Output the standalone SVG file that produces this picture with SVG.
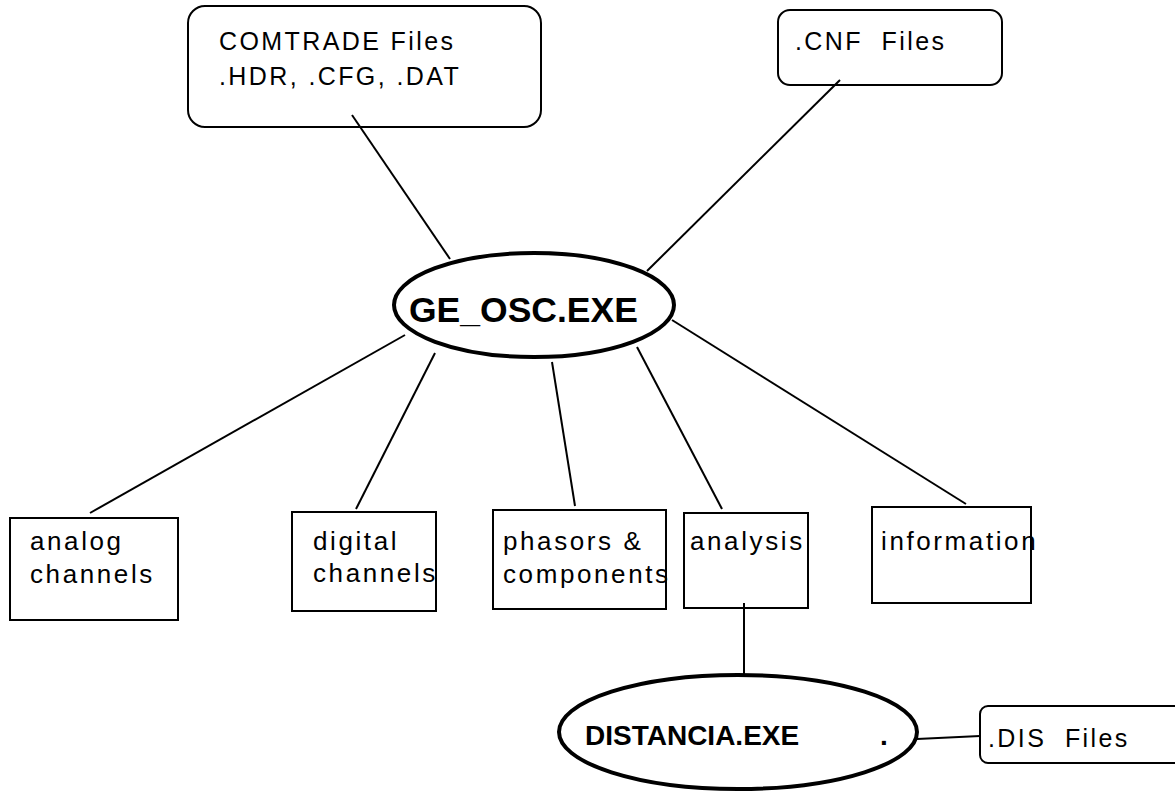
<svg xmlns="http://www.w3.org/2000/svg" width="1175" height="793" viewBox="0 0 1175 793">
<style>
.box{fill:#fff;stroke:#000;stroke-width:2}
.ell{fill:#fff;stroke:#000;stroke-width:4}
.t{font-family:"Liberation Sans",Arial,sans-serif;font-size:26px;letter-spacing:2.6px;fill:#000}
.tt{font-family:"Liberation Sans",Arial,sans-serif;font-size:25px;letter-spacing:2.4px;fill:#000}
.b{font-family:"Liberation Sans",Arial,sans-serif;font-weight:bold;fill:#000}
.c{stroke:#000;stroke-width:2;fill:none}
</style>
<rect width="1175" height="793" fill="#fff"/>
<g id="comtrade">
<rect class="box" x="188" y="6" width="353" height="121" rx="17"/>
<text class="tt" x="219" y="50">COMTRADE Files</text>
<text class="tt" x="219" y="85">.HDR, .CFG, .DAT</text>
</g>
<g id="cnf">
<rect class="box" x="778" y="10" width="224" height="75" rx="12"/>
<text class="tt" x="795" y="50" letter-spacing="2">.CNF&#160; Files</text>
</g>
<g id="ge_osc">
<ellipse class="ell" cx="534" cy="305" rx="140" ry="52"/>
<text class="b" x="409" y="322" font-size="35.5">GE_OSC.EXE</text>
</g>
<g id="analog">
<rect class="box" x="10" y="518" width="168" height="102"/>
<text class="t" x="30" y="550">analog</text>
<text class="t" x="30" y="583">channels</text>
</g>
<g id="digital">
<rect class="box" x="292" y="512" width="144" height="99"/>
<text class="t" x="313" y="550">digital</text>
<text class="t" x="313" y="582">channels</text>
</g>
<g id="phasors">
<rect class="box" x="493" y="510" width="173" height="99"/>
<text class="t" x="503" y="550">phasors &amp;</text>
<text class="t" x="503" y="583">components</text>
</g>
<g id="analysis">
<rect class="box" x="684" y="513" width="124" height="95"/>
<text class="t" x="690" y="550">analysis</text>
</g>
<g id="information">
<rect class="box" x="872" y="507" width="159" height="96"/>
<text class="t" x="881" y="550">information</text>
</g>
<g id="distancia">
<ellipse class="ell" cx="738" cy="732" rx="179" ry="57"/>
<text class="b" x="585" y="745" font-size="28">DISTANCIA.EXE</text>
<text class="b" x="880" y="745" font-size="28">.</text>
</g>
<g id="dis">
<rect class="box" x="980" y="706" width="205" height="57" rx="8"/>
<text class="tt" x="988" y="747">.DIS&#160; Files</text>
</g>
<g id="connectors">
<line class="c" x1="352" y1="115" x2="450" y2="259"/>
<line class="c" x1="840" y1="80" x2="647" y2="271"/>
<line class="c" x1="405" y1="335" x2="90" y2="513"/>
<line class="c" x1="435" y1="353" x2="356" y2="509"/>
<line class="c" x1="552" y1="362" x2="575" y2="506"/>
<line class="c" x1="637" y1="347" x2="722" y2="509"/>
<line class="c" x1="672" y1="320" x2="966" y2="504"/>
<line class="c" x1="744" y1="603" x2="744" y2="675"/>
<line class="c" x1="917" y1="739" x2="980" y2="736"/>
</g>
</svg>
